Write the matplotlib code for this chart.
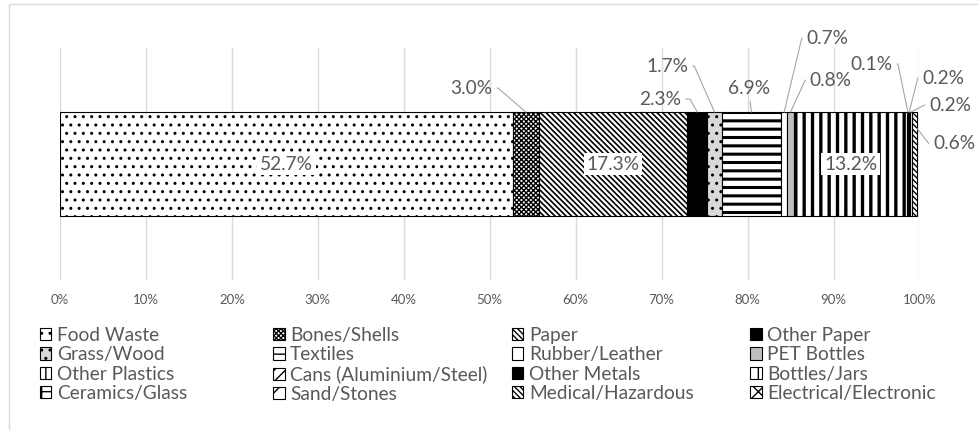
import matplotlib
matplotlib.use('Agg')
from matplotlib import pyplot as plt
from matplotlib.patches import Rectangle, Patch
import numpy as np

categories = ['Food Waste', 'Bones/Shells', 'Paper', 'Other Paper',
              'Grass/Wood', 'Textiles', 'Rubber/Leather', 'PET Bottles',
              'Other Plastics', 'Cans (Aluminium/Steel)', 'Other Metals', 'Bottles/Jars',
              'Ceramics/Glass', 'Sand/Stones', 'Medical/Hazardous', 'Electrical/Electronic']
shares = [52.7, 3.0, 17.3, 2.3,
          1.7, 6.9, 0.7, 0.8,
          13.2, 0.1, 0.2, 0.2,
          0.0, 0.0, 0.6, 0.0]
tick_values = [0, 10, 20, 30, 40, 50, 60, 70, 80, 90, 100]

# fill style per category: (facecolor, hatch, hatch linewidth)
styles = {
    'Food Waste': ('white', '..', 1.0),
    'Bones/Shells': ('white', 'xxxxxxx', 1.0),
    'Paper': ('white', '\\' * 6, 1.2),
    'Other Paper': ('black', '', 1.0),
    'Grass/Wood': ('#d9d9d9', '..', 1.0),
    'Textiles': ('white', '--', 2.2),
    'Rubber/Leather': ('white', '', 1.0),
    'PET Bottles': ('#bfbfbf', '', 1.0),
    'Other Plastics': ('white', '||', 2.4),
    'Cans (Aluminium/Steel)': ('white', '///', 1.0),
    'Other Metals': ('black', '', 1.0),
    'Bottles/Jars': ('white', '|', 2.5),
    'Ceramics/Glass': ('white', '+', 1.0),
    'Sand/Stones': ('white', 'x', 1.0),
    'Medical/Hazardous': ('white', '\\' * 6, 1.0),
    'Electrical/Electronic': ('white', 'xx', 1.5),
}

# label placement: offset in px from anchor, side of leader, elbow arm in px
outside = {
    'Bones/Shells': (-33, 24, 'L', 7),
    'Other Paper': (-16, 13, 'L', 12),
    'Grass/Wood': (-26, 46, 'L', 8),
    'Textiles': (-2, 15, 'C', 0),
    'Rubber/Leather': (22, 74, 'R', 6),
    'PET Bottles': (19, 32, 'R', 6),
    'Cans (Aluminium/Steel)': (-15, 48, 'L', 7),
    'Other Metals': (13, 34, 'R', 6),
    'Bottles/Jars': (18, 7, 'R', 6),
    'Medical/Hazardous': (16, -15, 'R', 6),
}
inside = ['Food Waste', 'Paper', 'Other Plastics']

plt.rcParams['font.family'] = ['Lato', 'DejaVu Sans']
grey = '#595959'
label_fs = 13.8

fig = plt.figure(figsize=(9.79, 4.30), dpi=100)
ax = fig.add_axes([60 / 979, 1 - 280 / 430, 859.5 / 979, 232 / 430])

bar_h = 0.448
left = 0.0
bars = {}
for name, v in zip(categories, shares):
    fc, hatch, hlw = styles[name]
    b = ax.barh(0, v, left=left, height=bar_h, color=fc, hatch=hatch,
                edgecolor='black', linewidth=0.8 if v > 0 else 0)[0]
    if hasattr(b, 'set_hatch_linewidth'):
        b.set_hatch_linewidth(hlw)
    bars[name] = (b, left, v)
    left += v

for name in inside:
    b, l, v = bars[name]
    ax.text(l + v / 2, 0, f'{v:.1f}%', ha='center', va='center', fontsize=label_fs,
            color=grey, bbox=dict(facecolor='white', edgecolor='none', pad=2))

for name, (dx, dy, side, arm) in outside.items():
    b, l, v = bars[name]
    if name == 'Medical/Hazardous':
        xy = (l + v, bar_h / 2 - 0.07)
    else:
        xy = (l + v / 2, bar_h / 2)
    if side == 'L':
        ha, relpos, cs = 'right', (1, 0.5), f'arc,angleA=0,armA={arm * 0.72},angleB=0,armB=0,rad=0'
        va = 'center'
    elif side == 'R':
        ha, relpos, cs = 'left', (0, 0.5), f'arc,angleA=180,armA={arm * 0.72},angleB=0,armB=0,rad=0'
        va = 'center'
    else:
        ha, relpos, cs, va = 'center', (0.5, 0), 'arc3', 'bottom'
    ax.annotate(f'{v:.1f}%', xy=xy, xytext=(dx * 0.72, dy * 0.72),
                textcoords='offset points', ha=ha, va=va, fontsize=label_fs, color=grey,
                arrowprops=dict(arrowstyle='-', color='#a6a6a6', lw=0.8,
                                connectionstyle=cs, relpos=relpos,
                                shrinkA=1, shrinkB=0))

ax.set_xlim(0, 100)
ax.set_ylim(-0.5, 0.5)
ax.set_xticks(tick_values)
ax.set_xticklabels([f'{t}%' for t in tick_values], fontsize=9.5, color=grey)
ax.tick_params(axis='x', length=0, pad=10)
ax.set_yticks([])
ax.grid(axis='x', color='#d9d9d9', linewidth=1)
ax.set_axisbelow(True)
for s in ax.spines.values():
    s.set_visible(False)

# legend: 4 columns, filled row by row
def legend_patch(name):
    fc, hatch, hlw = styles[name]
    p = Patch(facecolor=fc, hatch=hatch, edgecolor='black', linewidth=0.8)
    if hasattr(p, 'set_hatch_linewidth'):
        p.set_hatch_linewidth(min(hlw, 1.2))
    return p

col_x = [40, 273, 512, 750]
for j, x in enumerate(col_x):
    names = categories[j::4]
    hs = [legend_patch(n) for n in names]
    fig.legend(hs, names, loc='upper left',
               bbox_to_anchor=(x / 979, 1 - 327 / 430), frameon=False,
               fontsize=label_fs, labelcolor=grey, handlelength=0.6, handleheight=0.6,
               handletextpad=0.3, labelspacing=0.12, borderpad=0, borderaxespad=0)

# light chart frame
fig.add_artist(Rectangle((9 / 979, -0.1), 1.2, 1.1 - 4 / 430, transform=fig.transFigure,
                         fill=False, edgecolor='#d9d9d9', linewidth=1))

fig.savefig('out.png', dpi=100)
